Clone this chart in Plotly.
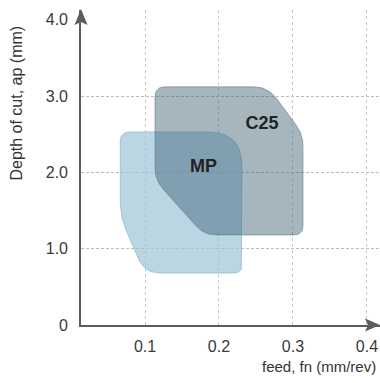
import numpy as np
import plotly.graph_objects as go

# ticks
x_ticks = [0.1, 0.2, 0.3, 0.4]
x_tick_text = ["0.1", "0.2", "0.3", "0.4"]
y_ticks = [0, 1, 2, 3, 4]
y_tick_text = ["0", "1.0", "2.0", "3.0", "4.0"]

# corner points of the working areas (feed mm/rev, depth of cut mm)
mp_feed = [0.0665, 0.231, 0.231, 0.0995, 0.0665]
mp_depth = [2.53, 2.53, 0.68, 0.68, 1.42]
c25_feed = [0.1135, 0.266, 0.3135, 0.3135, 0.18, 0.1135]
c25_depth = [3.12, 3.12, 2.50, 1.18, 1.18, 1.90]

grade_names = ["MP", "C25"]
label_feed = [0.179, 0.258]
label_depth = [2.07, 2.63]

X_RANGE = [0.0135, 0.4176]
Y_RANGE = [0, 4.127]
# px per data unit, only used so the rounded corners look round
SX, SY = 740.0, 76.33


def rounded(xs, ys, radii, n=12):
    pts = np.column_stack([np.array(xs) * SX, np.array(ys) * SY])
    out = []
    k = len(pts)
    for i in range(k):
        v = pts[i]
        p = pts[i - 1]
        q = pts[(i + 1) % k]
        dp = p - v
        dq = q - v
        lp = np.hypot(*dp)
        lq = np.hypot(*dq)
        r = min(radii[i], lp / 2, lq / 2)
        a = v + dp / lp * r
        b = v + dq / lq * r
        for t in np.linspace(0, 1, n):
            out.append((1 - t) ** 2 * a + 2 * (1 - t) * t * v + t ** 2 * b)
    out.append(out[0])
    out = np.array(out)
    return out[:, 0] / SX, out[:, 1] / SY


fig = go.Figure()

mx, my = rounded(mp_feed, mp_depth, [10, 34, 8, 16, 16])
fig.add_trace(go.Scatter(x=mx, y=my, mode="lines", fill="toself",
                         fillcolor="rgba(156,197,215,0.7)",
                         line=dict(color="rgba(120,160,180,0.5)", width=1),
                         hoverinfo="skip"))

cx, cy = rounded(c25_feed, c25_depth, [10, 14, 12, 9, 12, 12])
fig.add_trace(go.Scatter(x=cx, y=cy, mode="lines", fill="toself",
                         fillcolor="rgba(58,93,113,0.45)",
                         line=dict(color="rgba(90,110,125,0.5)", width=1),
                         hoverinfo="skip"))

fig.add_trace(go.Scatter(x=label_feed, y=label_depth, mode="text",
                         text=grade_names,
                         textfont=dict(family="Liberation Sans", size=18,
                                       color="#222222", weight="bold"),
                         hoverinfo="skip"))

fig.update_xaxes(range=X_RANGE, tickvals=x_ticks, ticktext=x_tick_text,
                 automargin=False,
                 showgrid=True, gridcolor="#c8c8c8", griddash="dot",
                 gridwidth=1, zeroline=False, showline=True,
                 linecolor="#5c5c5c", linewidth=1.6, ticks="",
                 ticklabelstandoff=6,
                 tickfont=dict(family="Liberation Sans", size=16,
                               color="#3a3a3a"))
fig.update_yaxes(range=Y_RANGE, tickvals=y_ticks, ticktext=y_tick_text,
                 automargin=False,
                 showgrid=False, zeroline=False, showline=True,
                 linecolor="#5c5c5c", linewidth=1.6, ticks="",
                 ticklabelstandoff=8,
                 minor=dict(tickvals=[1, 2, 3], showgrid=True,
                            gridcolor="#bdbdbd", griddash="3px,2px",
                            gridwidth=1, ticks=""),
                 tickfont=dict(family="Liberation Sans", size=16,
                               color="#3a3a3a"))

# arrow heads at the end of both axes
fig.add_shape(type="path", xref="paper", yref="paper",
              xsizemode="pixel", ysizemode="pixel", xanchor=0, yanchor=1,
              path="M0,1 L-6.5,-15 L0,-12 L6.5,-15 Z",
              fillcolor="#5c5c5c", line=dict(width=0), layer="above")
fig.add_shape(type="path", xref="paper", yref="paper",
              xsizemode="pixel", ysizemode="pixel", xanchor=1, yanchor=0,
              path="M0,0 L-15,6.5 L-12,0 L-15,-6.5 Z",
              fillcolor="#5c5c5c", line=dict(width=0), layer="above")

fig.add_annotation(text="Depth of cut, ap (mm)", xref="paper", yref="paper",
                   x=-0.214, y=0.703, textangle=-90, showarrow=False,
                   xanchor="center", yanchor="middle",
                   font=dict(family="Liberation Sans", size=16,
                             color="#333333"))
fig.add_annotation(text="feed, fn (mm/rev)", xref="paper", yref="paper",
                   x=0.993, y=-0.133, showarrow=False,
                   xanchor="right", yanchor="middle",
                   font=dict(family="Liberation Sans", size=15,
                             color="#333333"))

fig.update_layout(width=380, height=383, showlegend=False,
                  margin=dict(l=81, r=0, t=10, b=58, autoexpand=False),
                  plot_bgcolor="white", paper_bgcolor="white")

# drop the default body margin so the figure fills the window
fig.write_html("out.html",
               config={"displayModeBar": False},
               post_script="document.body.style.margin='0';"
                           "document.body.style.overflow='hidden';")
